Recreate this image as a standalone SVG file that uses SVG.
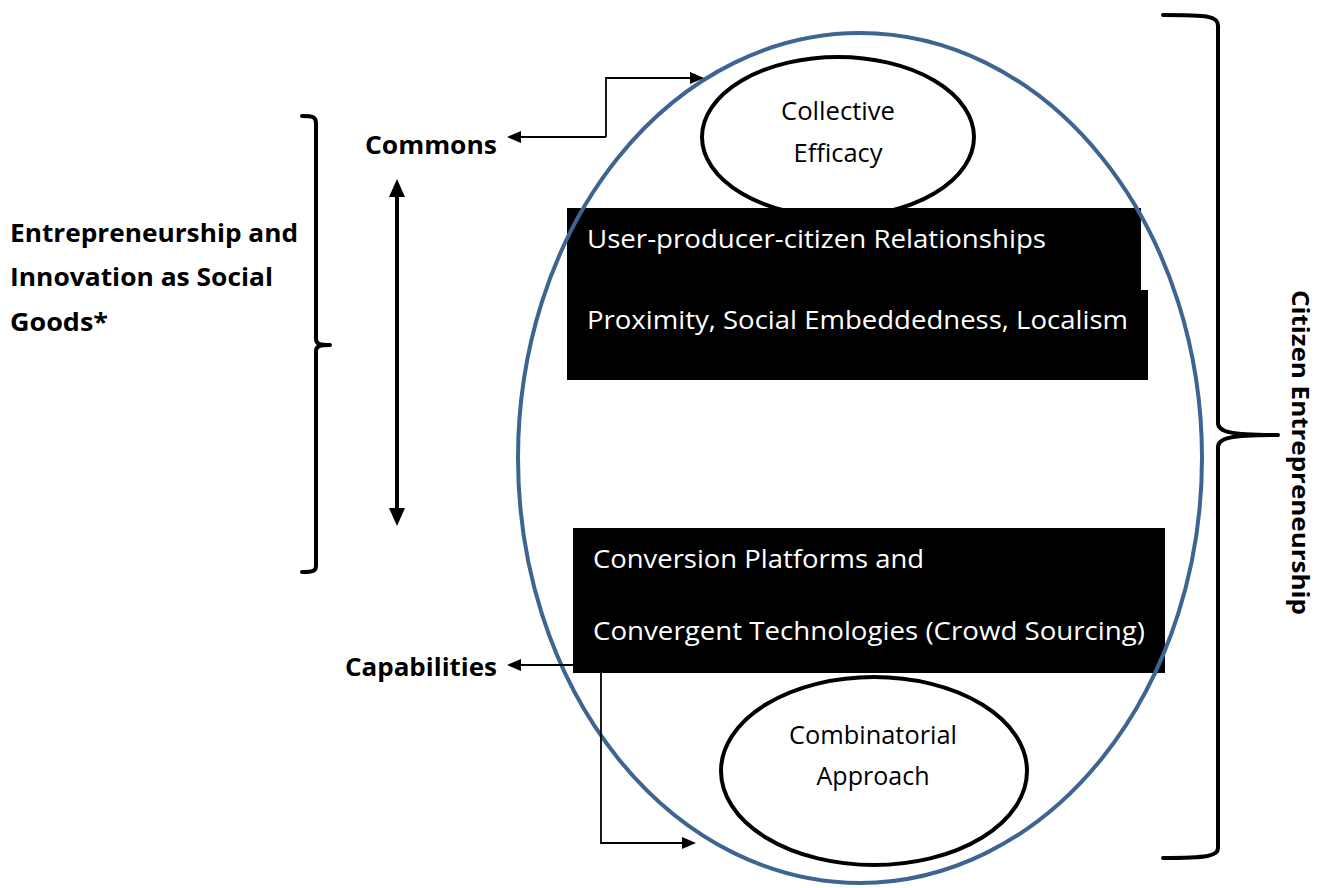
<svg xmlns="http://www.w3.org/2000/svg" width="1325" height="888" viewBox="0 0 1325 888">
<style>
.lbl{font-family:"Open Sans","Liberation Sans",sans-serif;font-weight:bold;fill:#000;}
.wt{font-family:"Open Sans","Liberation Sans",sans-serif;fill:#fff;font-size:25px;}
.bt{font-family:"Open Sans","Liberation Sans",sans-serif;fill:#000;font-size:25px;text-anchor:middle;}
.thin{fill:none;stroke:#000;stroke-width:1.8;}
.brace{fill:none;stroke:#000;stroke-width:4;stroke-linejoin:round;stroke-linecap:round;}
.oval{fill:#fff;stroke:#000;stroke-width:4;}
</style>
<defs>
<marker id="ah" viewBox="0 0 14 12" refX="0" refY="6" markerWidth="14" markerHeight="12" markerUnits="userSpaceOnUse" orient="auto">
<path d="M0,0 L14,6 L0,12 Z" fill="#000"/>
</marker>
<marker id="ahb" viewBox="0 0 18 16" refX="0" refY="8" markerWidth="18" markerHeight="16" markerUnits="userSpaceOnUse" orient="auto-start-reverse">
<path d="M0,0 L18,8 L0,16 Z" fill="#000"/>
</marker>
</defs>
<rect width="1325" height="888" fill="#fff"/>

<g id="collective-efficacy">
<ellipse class="oval" cx="838" cy="137" rx="136" ry="80"/>
<text class="bt" x="838" y="120" textLength="114" lengthAdjust="spacingAndGlyphs">Collective</text>
<text class="bt" x="838" y="162" textLength="89" lengthAdjust="spacingAndGlyphs">Efficacy</text>
</g>

<g id="relationships-box">
<rect x="567" y="208" width="574" height="84" fill="#000"/>
<rect x="567" y="290" width="581" height="90" fill="#000"/>
<text class="wt" x="587" y="248" textLength="459" lengthAdjust="spacingAndGlyphs">User-producer-citizen Relationships</text>
<text class="wt" x="587" y="329" textLength="541" lengthAdjust="spacingAndGlyphs">Proximity, Social Embeddedness, Localism</text>
</g>

<g id="platforms-box">
<rect x="573" y="528" width="592" height="145" fill="#000"/>
<text class="wt" x="593" y="568" textLength="331" lengthAdjust="spacingAndGlyphs">Conversion Platforms and</text>
<text class="wt" x="593" y="640" textLength="552" lengthAdjust="spacingAndGlyphs">Convergent Technologies (Crowd Sourcing)</text>
</g>

<g id="combinatorial-approach">
<ellipse class="oval" cx="874" cy="771" rx="153" ry="94"/>
<text class="bt" x="873" y="744" textLength="168" lengthAdjust="spacingAndGlyphs">Combinatorial</text>
<text class="bt" x="873" y="785" textLength="113" lengthAdjust="spacingAndGlyphs">Approach</text>
</g>

<g id="outer-ellipse">
<ellipse cx="860" cy="458" rx="342" ry="425" fill="none" stroke="#3E6491" stroke-width="4"/>
</g>

<g id="commons">
<text class="lbl" x="365" y="154" font-size="25" textLength="132" lengthAdjust="spacingAndGlyphs">Commons</text>
</g>

<g id="capabilities">
<text class="lbl" x="345" y="676" font-size="25" textLength="152" lengthAdjust="spacingAndGlyphs">Capabilities</text>
</g>

<g id="social-goods">
<text class="lbl" x="10" y="242" font-size="25" textLength="288" lengthAdjust="spacingAndGlyphs">Entrepreneurship and</text>
<text class="lbl" x="10" y="286" font-size="25" textLength="263" lengthAdjust="spacingAndGlyphs">Innovation as Social</text>
<text class="lbl" x="10" y="331" font-size="25" textLength="98" lengthAdjust="spacingAndGlyphs">Goods*</text>
<path class="brace" d="M302,116 C313,116 316,117 316,123 L316,339 C316,344 320,345 330,345 C320,345 316,346 316,351 L316,566 C316,571 313,572 302,572"/>
</g>

<g id="citizen-entrepreneurship">
<path class="brace" d="M1163,15 C1208,15 1218,16 1218,26 L1218,423 C1218,432 1230,435 1278,435 C1230,435 1218,438 1218,447 L1218,848 C1218,856 1208,858 1163,858"/>
<text class="lbl" font-size="24" transform="translate(1292,290) rotate(90)" x="0" y="0" textLength="325" lengthAdjust="spacingAndGlyphs">Citizen Entrepreneurship</text>
</g>

<g id="connectors">
<path class="thin" d="M606,137 L521,137" marker-end="url(#ah)"/>
<path class="thin" d="M606,137 L606,78 L690,78" marker-end="url(#ah)"/>
<path d="M397,197 L397,508" stroke="#000" stroke-width="4" fill="none" marker-start="url(#ahb)" marker-end="url(#ahb)"/>
<path class="thin" d="M573,665 L521,665" marker-end="url(#ah)"/>
<path class="thin" d="M601,673 L601,843 L682,843" marker-end="url(#ah)"/>
</g>
</svg>
